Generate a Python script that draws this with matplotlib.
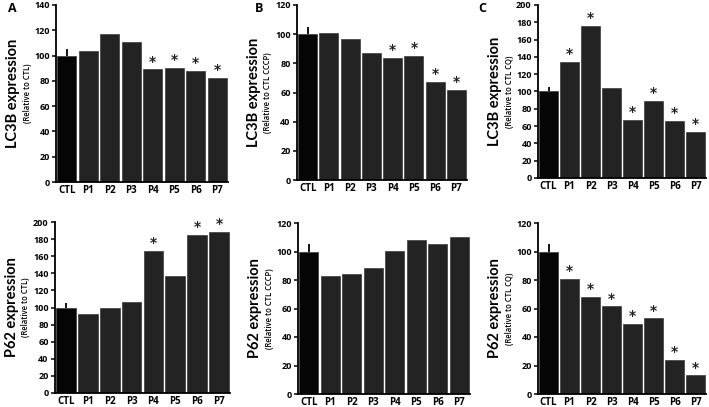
import matplotlib.pyplot as plt
import numpy as np

plt.rcParams["font.family"] = ["Open Sans", "DejaVu Sans"]

groups = ["CTL", "P1", "P2", "P3", "P4", "P5", "P6", "P7"]

lc3b_ctl = [100, 104, 117, 111, 89, 90, 88, 82.5]
lc3b_cccp = [100, 101, 97, 87, 84, 85, 67, 61.5]
lc3b_cq = [100, 134, 176, 104, 67, 89, 66, 53]
p62_ctl = [100, 92, 100, 106, 166, 137, 185, 188]
p62_cccp = [100, 83, 84.5, 88.5, 100.5, 108, 105.5, 110]
p62_cq = [100, 81, 68, 61.5, 49, 53, 24, 13]

ctl_err = 5

stars_lc3b_ctl = [0, 0, 0, 0, 1, 1, 1, 1]
stars_lc3b_cccp = [0, 0, 0, 0, 1, 1, 1, 1]
stars_lc3b_cq = [0, 1, 1, 0, 1, 1, 1, 1]
stars_p62_ctl = [0, 0, 0, 0, 1, 0, 1, 1]
stars_p62_cccp = [0, 0, 0, 0, 0, 0, 0, 0]
stars_p62_cq = [0, 1, 1, 1, 1, 1, 1, 1]

W, H = 709, 407


def px_rect(left, right, top, bottom):
    # pixel box of the axes -> figure fraction
    return [left / W, 1 - bottom / H, (right - left) / W, (bottom - top) / H]


panels = [
    # values, stars, ymax, title, sub, letter (x px, y px), rect
    (lc3b_ctl, stars_lc3b_ctl, 140, "LC3B expression", "(Relative to CTL)", ("A", 12, 8),
     px_rect(56, 228, 5, 182)),
    (lc3b_cccp, stars_lc3b_cccp, 120, "LC3B expression", "(Relative to CTL CCCP)", ("B", 259, 8),
     px_rect(297, 467, 5, 180)),
    (lc3b_cq, stars_lc3b_cq, 200, "LC3B expression", "(Relative to CTL CQ)", ("C", 482, 8),
     px_rect(538, 706, 5, 178)),
    (p62_ctl, stars_p62_ctl, 200, "P62 expression", "(Relative to CTL)", None,
     px_rect(55, 230, 222, 393)),
    (p62_cccp, stars_p62_cccp, 120, "P62 expression", "(Relative to CTL CCCP)", None,
     px_rect(298, 470, 223, 394)),
    (p62_cq, stars_p62_cq, 120, "P62 expression", "(Relative to CTL CQ)", None,
     px_rect(538, 706, 223, 394)),
]

fig = plt.figure(figsize=(W / 100, H / 100), dpi=100)

for vals, stars, ymax, title, sub, letter, rect in panels:
    ax = fig.add_axes(rect)
    x = np.arange(len(groups))
    colors = ["#050505"] + ["#232323"] * (len(groups) - 1)
    ax.bar(x, vals, width=0.9, color=colors, edgecolor="#3a3a3a", linewidth=0.5)
    ax.errorbar([0], [vals[0]], yerr=[[0], [ctl_err]], fmt="none", ecolor="black",
                elinewidth=1.3, capsize=0)
    for xi, v, s in zip(x, vals, stars):
        if s:
            ax.text(xi, v + ymax * 0.005, "*", ha="center", va="bottom",
                    fontsize=10, fontweight="bold", color="#222222",
                    family="DejaVu Sans")
    ax.set_xlim(-0.5, len(groups) - 0.5)
    ax.set_ylim(0, ymax)
    ax.set_yticks(np.arange(0, ymax + 1, 20))
    ax.set_xticks(x)
    ax.set_xticklabels(groups)
    ax.spines["top"].set_visible(False)
    ax.spines["right"].set_visible(False)
    ax.spines["left"].set_linewidth(1.3)
    ax.spines["bottom"].set_linewidth(1.3)
    ax.tick_params(axis="x", length=0, pad=2, labelsize=7)
    ax.tick_params(axis="y", length=3, width=1.1, pad=1.5, labelsize=6.5)
    for lab in ax.get_xticklabels() + ax.get_yticklabels():
        lab.set_fontweight("bold")

    # y labels placed by pixel offset from the left spine
    ax_w = rect[2] * W
    ax.text(-43 / ax_w, 0.5, title, transform=ax.transAxes, rotation=90,
            ha="center", va="center", fontsize=10.5, fontweight="bold",
            family="Lato")
    ax.text(-29 / ax_w, 0.5, sub, transform=ax.transAxes, rotation=90,
            ha="center", va="center", fontsize=5.5, fontweight="semibold")
    if letter:
        fig.text(letter[1] / W, 1 - letter[2] / H, letter[0], ha="center",
                 va="center", fontsize=9, fontweight="bold")

fig.savefig("out.png", dpi=100)
